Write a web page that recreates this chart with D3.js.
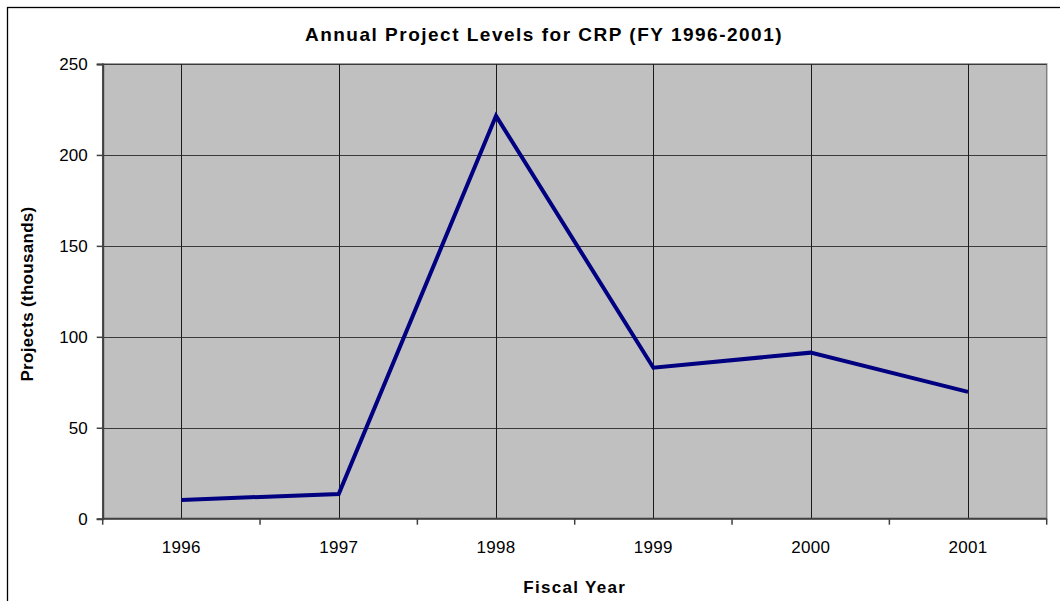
<!DOCTYPE html>
<html>
<head>
<meta charset="utf-8">
<script src="https://cdn.jsdelivr.net/npm/d3@7"></script>
<style>
  body { margin: 0; background: #fff; }
  svg { display: block; }
</style>
</head>
<body>
<svg id="chart" width="1060" height="601"></svg>
<script>
// Data
const years = ["1996", "1997", "1998", "1999", "2000", "2001"];
const projects = [10.3, 13.6, 221.5, 83, 91.3, 69.7];
const yTicks = [0, 50, 100, 150, 200, 250];

const svg = d3.select("#chart");
const font = "'Liberation Sans', Arial, sans-serif";

// Plot area
const margin = { left: 102.7, right: 1046.7, top: 64, bottom: 518.7 };

// Chart area border (runs off the right and bottom of the picture)
svg.append("rect")
    .attr("x", 7.5)
    .attr("y", 7.5)
    .attr("width", 1080)
    .attr("height", 620)
    .attr("fill", "#fff")
    .attr("stroke", "#000")
    .attr("stroke-width", 1.3);

const x = d3.scaleBand()
    .domain(years)
    .range([margin.left, margin.right]);

const y = d3.scaleLinear()
    .domain([0, 250])
    .range([margin.bottom, margin.top]);

// Plot background
svg.append("rect")
    .attr("x", margin.left)
    .attr("y", margin.top)
    .attr("width", margin.right - margin.left)
    .attr("height", margin.bottom - margin.top)
    .attr("fill", "#c0c0c0")
    .attr("stroke", "#808080")
    .attr("stroke-width", 1.5);

// Horizontal gridlines
svg.append("g")
    .selectAll("line")
    .data(yTicks.filter(d => d > 0))
    .join("line")
    .attr("x1", margin.left)
    .attr("x2", margin.right)
    .attr("y1", d => Math.round(y(d)) + 0.5)
    .attr("y2", d => Math.round(y(d)) + 0.5)
    .attr("stroke", "#3a3a3a")
    .attr("stroke-width", 1);

// Vertical gridlines at category centres
svg.append("g")
    .selectAll("line")
    .data(years)
    .join("line")
    .attr("x1", d => Math.round(x(d) + x.bandwidth() / 2) + 0.5)
    .attr("x2", d => Math.round(x(d) + x.bandwidth() / 2) + 0.5)
    .attr("y1", margin.top)
    .attr("y2", margin.bottom)
    .attr("stroke", "#1a1a1a")
    .attr("stroke-width", 1);

// Y axis
const yAxis = svg.append("g")
    .attr("transform", `translate(${margin.left},0)`)
    .call(d3.axisLeft(y).tickValues(yTicks).tickSize(6).tickPadding(9));
yAxis.select(".domain").attr("stroke", "#404040").attr("stroke-width", 2);
yAxis.selectAll(".tick line").attr("stroke", "#404040").attr("stroke-width", 1.5);
yAxis.selectAll("text")
    .attr("font-family", font)
    .attr("font-size", 17)
    .attr("fill", "#000");

// X axis: ticks on category boundaries, labels centred
const xAxis = svg.append("g")
    .attr("transform", `translate(0,${margin.bottom})`);
xAxis.append("line")
    .attr("x1", margin.left)
    .attr("x2", margin.right)
    .attr("stroke", "#404040")
    .attr("stroke-width", 2);
xAxis.selectAll(".bt")
    .data(d3.range(years.length + 1))
    .join("line")
    .attr("class", "bt")
    .attr("x1", i => margin.left + i * x.step())
    .attr("x2", i => margin.left + i * x.step())
    .attr("y1", 0)
    .attr("y2", 6)
    .attr("stroke", "#404040")
    .attr("stroke-width", 1.5);
xAxis.selectAll("text")
    .data(years)
    .join("text")
    .attr("x", d => x(d) + x.bandwidth() / 2)
    .attr("y", 34)
    .attr("text-anchor", "middle")
    .attr("font-family", font)
    .attr("font-size", 17)
    .attr("letter-spacing", 0.3)
    .text(d => d);

// Series line
const line = d3.line()
    .x((d, i) => x(years[i]) + x.bandwidth() / 2)
    .y(d => y(d));

svg.append("path")
    .datum(projects)
    .attr("d", line)
    .attr("fill", "none")
    .attr("stroke", "#000080")
    .attr("stroke-width", 4)
    .attr("stroke-linejoin", "miter");

// Title
svg.append("text")
    .attr("x", 544)
    .attr("y", 41)
    .attr("text-anchor", "middle")
    .attr("font-family", font)
    .attr("font-size", 19)
    .attr("font-weight", "bold")
    .attr("letter-spacing", 1.5)
    .text("Annual Project Levels for CRP (FY 1996-2001)");

// Axis titles
svg.append("text")
    .attr("x", 574.7)
    .attr("y", 593)
    .attr("text-anchor", "middle")
    .attr("font-family", font)
    .attr("font-size", 17)
    .attr("font-weight", "bold")
    .attr("letter-spacing", 1.3)
    .text("Fiscal Year");

svg.append("text")
    .attr("transform", "rotate(-90)")
    .attr("x", -294)
    .attr("y", 33)
    .attr("text-anchor", "middle")
    .attr("font-family", font)
    .attr("font-size", 17)
    .attr("font-weight", "bold")
    .attr("letter-spacing", 0.3)
    .text("Projects (thousands)");
</script>
</body>
</html>
